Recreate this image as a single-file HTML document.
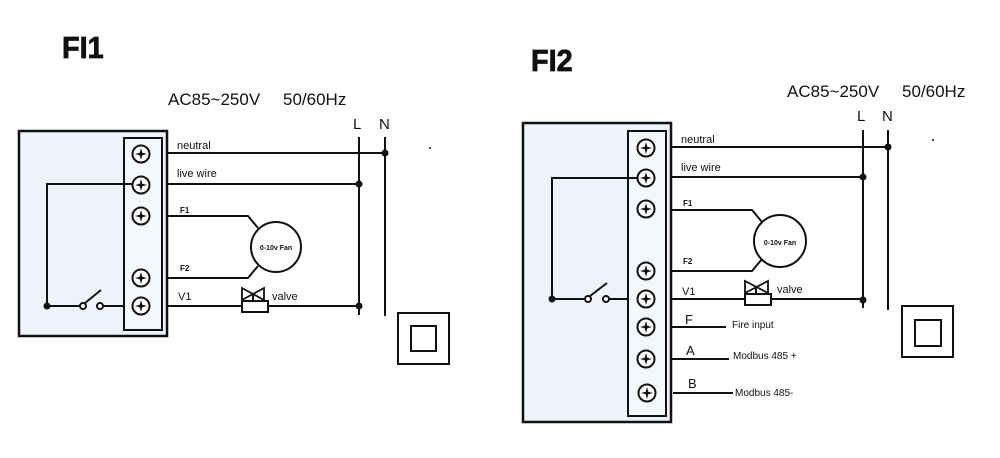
<!DOCTYPE html>
<html><head><meta charset="utf-8"><style>
html,body{margin:0;padding:0;background:#fff;}
svg{display:block;}
text{font-family:"Liberation Sans",sans-serif;fill:#111;}
</style></head><body>
<svg width="1000" height="458" viewBox="0 0 1000 458" xmlns="http://www.w3.org/2000/svg">
<defs>
<g id="scr">
<circle r="8.5" fill="#fff" stroke="#111" stroke-width="2"/>
<path d="M0,-6 L1.3,-1.3 L6,0 L1.3,1.3 L0,6 L-1.3,1.3 L-6,0 L-1.3,-1.3Z" fill="#111"/>
</g>
</defs>
<!-- titles -->
<text x="62" y="58" font-size="31" font-weight="bold" stroke="#111" stroke-width="0.8" transform="translate(62,0) scale(0.93,1) translate(-62,0)">FI1</text>
<text x="531" y="71" font-size="31" font-weight="bold" stroke="#111" stroke-width="0.8" transform="translate(531,0) scale(0.93,1) translate(-531,0)">FI2</text>

<!-- ===== FI1 ===== -->
<g stroke="#111" fill="none" stroke-width="2">
<rect x="19" y="131" width="148" height="205" fill="#eef3fa" stroke-width="2.5"/>
<rect x="124" y="138" width="38" height="192" fill="#f4f7fb"/>
<line x1="167" y1="153" x2="385" y2="153"/>
<line x1="167" y1="184" x2="359" y2="184"/>
<line x1="359" y1="137" x2="359" y2="315"/>
<line x1="385" y1="137" x2="385" y2="316"/>
<path d="M167,216 H248 L258,228"/>
<path d="M167,278 H248 L258,266"/>
<circle cx="276" cy="247" r="25"/>
<line x1="167" y1="306" x2="242" y2="306"/>
<line x1="268" y1="306" x2="359" y2="306"/>
<rect x="242" y="301" width="26" height="11"/>
<path d="M242,288 L264,300 L264,288 L242,300Z" stroke-width="1.8"/>
<line x1="253" y1="294" x2="253" y2="301"/>
<path d="M141,184 H47 V306 H80"/>
<circle cx="83" cy="306" r="3" fill="#fff"/>
<line x1="85" y1="303" x2="101" y2="290"/>
<circle cx="100" cy="306" r="3" fill="#fff"/>
<line x1="103" y1="306" x2="124" y2="306"/>
<rect x="398" y="313" width="51" height="51"/>
<rect x="411" y="326" width="25" height="25"/>
</g>
<g fill="#111">
<circle cx="385" cy="153" r="3.5"/><circle cx="359" cy="184" r="3.5"/><circle cx="359" cy="306" r="3.5"/>
<circle cx="47" cy="306" r="3.5"/><circle cx="430" cy="148" r="1"/>
</g>
<use href="#scr" x="141" y="154"/><use href="#scr" x="141" y="185"/><use href="#scr" x="141" y="216"/>
<use href="#scr" x="141" y="278"/><use href="#scr" x="141" y="306"/>
<text x="168" y="105" font-size="17">AC85~250V</text>
<text x="283" y="105" font-size="17">50/60Hz</text>
<text x="353" y="129" font-size="15">L</text>
<text x="379" y="129" font-size="15">N</text>
<text x="177" y="149" font-size="11">neutral</text>
<text x="177" y="177" font-size="11">live wire</text>
<text x="180" y="213" font-size="8" font-weight="bold">F1</text>
<text x="180" y="271" font-size="8" font-weight="bold">F2</text>
<text x="178" y="300" font-size="11">V1</text>
<text x="272" y="300" font-size="11">valve</text>
<text x="276" y="250" font-size="7" text-anchor="middle" font-weight="bold">0-10v Fan</text>

<!-- ===== FI2 ===== -->
<g stroke="#111" fill="none" stroke-width="2">
<rect x="523" y="123" width="148" height="299" fill="#eef3fa" stroke-width="2.5"/>
<rect x="628" y="131" width="38" height="285" fill="#f4f7fb"/>
<line x1="671" y1="147" x2="888" y2="147"/>
<line x1="671" y1="177" x2="863" y2="177"/>
<line x1="863" y1="130" x2="863" y2="308"/>
<line x1="888" y1="130" x2="888" y2="310"/>
<path d="M671,210 H752 L762,222"/>
<path d="M671,271 H752 L762,259"/>
<circle cx="780" cy="241" r="26"/>
<line x1="671" y1="299" x2="745" y2="299"/>
<line x1="771" y1="299" x2="863" y2="299"/>
<rect x="745" y="294" width="26" height="11"/>
<path d="M745,281 L768,293 L768,281 L745,293Z" stroke-width="1.8"/>
<line x1="756" y1="287" x2="756" y2="294"/>
<path d="M646,178 H552 V299 H584"/>
<circle cx="588" cy="299" r="3" fill="#fff"/>
<line x1="590" y1="296" x2="607" y2="283"/>
<circle cx="606" cy="299" r="3" fill="#fff"/>
<line x1="609" y1="299" x2="628" y2="299"/>
<line x1="671" y1="327" x2="726" y2="327"/>
<line x1="671" y1="359" x2="729" y2="359"/>
<line x1="673" y1="393" x2="733" y2="393"/>
<rect x="902" y="306" width="51" height="51"/>
<rect x="915" y="320" width="26" height="26"/>
</g>
<g fill="#111">
<circle cx="888" cy="147" r="3.5"/><circle cx="863" cy="177" r="3.5"/><circle cx="863" cy="300" r="3.5"/>
<circle cx="552" cy="299" r="3.5"/><circle cx="933" cy="140" r="1"/>
</g>
<use href="#scr" x="646" y="148"/><use href="#scr" x="646" y="178"/><use href="#scr" x="646" y="209"/>
<use href="#scr" x="646" y="271"/><use href="#scr" x="646" y="299"/><use href="#scr" x="646" y="327"/>
<use href="#scr" x="646" y="359"/><use href="#scr" x="647" y="393"/>
<text x="787" y="97" font-size="17">AC85~250V</text>
<text x="902" y="97" font-size="17">50/60Hz</text>
<text x="857" y="121" font-size="15">L</text>
<text x="882" y="121" font-size="15">N</text>
<text x="681" y="143" font-size="11">neutral</text>
<text x="681" y="171" font-size="11">live wire</text>
<text x="683" y="206" font-size="8" font-weight="bold">F1</text>
<text x="683" y="264" font-size="8" font-weight="bold">F2</text>
<text x="682" y="295" font-size="11">V1</text>
<text x="777" y="293" font-size="11">valve</text>
<text x="780" y="245" font-size="7" text-anchor="middle" font-weight="bold">0-10v Fan</text>
<text x="685" y="324" font-size="13">F</text>
<text x="732" y="328" font-size="10">Fire input</text>
<text x="686" y="355" font-size="13">A</text>
<text x="733" y="359" font-size="10">Modbus 485 +</text>
<text x="688" y="388" font-size="13">B</text>
<text x="735" y="396" font-size="10">Modbus 485-</text>
</svg>
</body></html>
